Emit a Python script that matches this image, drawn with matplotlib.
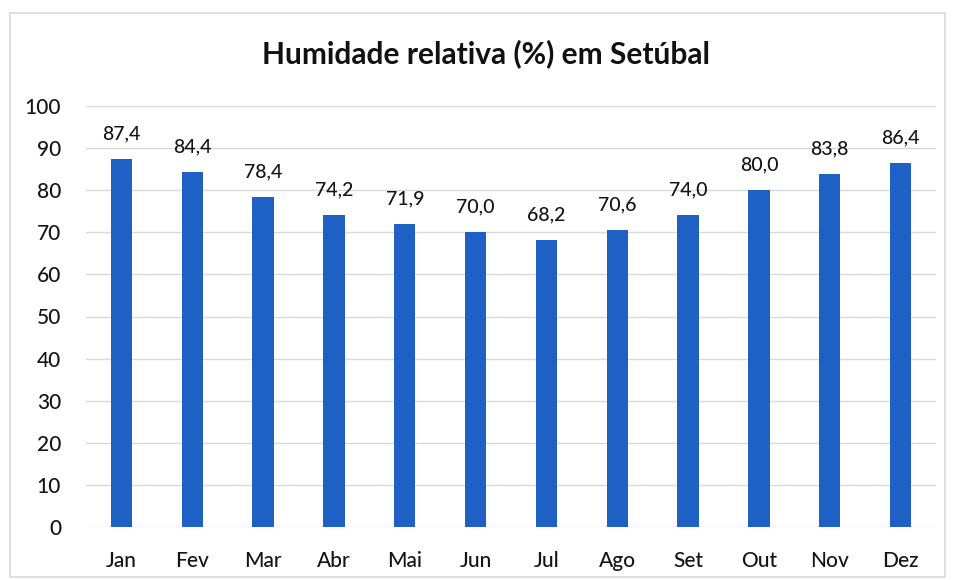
import matplotlib
matplotlib.use("Agg")
import matplotlib.pyplot as plt
from matplotlib.patches import Rectangle

months = ["Jan", "Fev", "Mar", "Abr", "Mai", "Jun", "Jul", "Ago", "Set", "Out", "Nov", "Dez"]
humidity = [87.4, 84.4, 78.4, 74.2, 71.9, 70.0, 68.2, 70.6, 74.0, 80.0, 83.8, 86.4]
yticks = [0, 10, 20, 30, 40, 50, 60, 70, 80, 90, 100]
title = "Humidade relativa (%) em Setúbal"

plt.rcParams['font.family'] = ['Lato', 'DejaVu Sans']

W, H = 955, 580
fig = plt.figure(figsize=(W / 100, H / 100), dpi=100)
fig.patch.set_facecolor("white")

# chart border
fig.add_artist(Rectangle((10 / W, 1 - 577 / H), 935 / W, 564 / H,
                         transform=fig.transFigure, fill=False,
                         edgecolor="#D9D9D9", linewidth=1.2))

ax = fig.add_axes([86 / W, 1 - 527 / H, 850 / W, 421 / H])
x = list(range(len(months)))
bars = ax.bar(x, humidity, width=0.3, color="#1E60C3", zorder=3)

ax.set_xlim(-0.5, len(months) - 0.5)
ax.set_ylim(0, 100)
ax.set_yticks(yticks)
ax.set_yticklabels([str(v) for v in yticks])
ax.set_xticks(x)
ax.set_xticklabels(months)
ax.tick_params(axis="y", length=0, pad=18, labelsize=15, labelcolor="#151515")
ax.tick_params(axis="x", length=0, pad=17, labelsize=15, labelcolor="#151515")
for lbl in ax.get_xticklabels() + ax.get_yticklabels():
    lbl.set_fontweight("medium")
ax.grid(axis="y", color="#D9D9D9", linewidth=1, zorder=0)
for s in ax.spines.values():
    s.set_visible(False)

for xi, v in zip(x, humidity):
    ax.annotate(f"{v:.1f}".replace(".", ","), (xi, v), xytext=(0, 12),
                textcoords="offset points", ha="center", va="bottom",
                fontsize=14, fontweight="medium", color="#151515")

fig.text(486 / W, 1 - 54 / H, title, ha="center", va="center",
         fontsize=21.5, fontweight="bold", color="#111111")

fig.savefig("out.png", dpi=100)
